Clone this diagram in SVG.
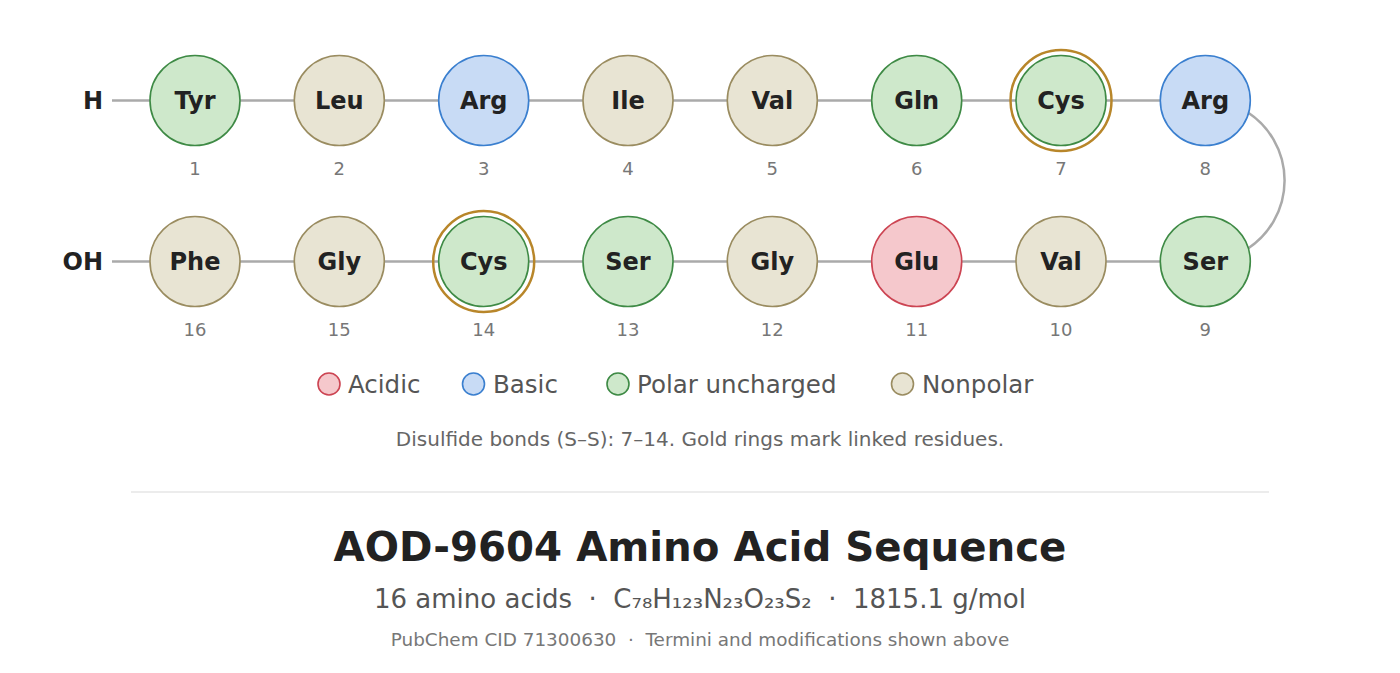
<svg xmlns="http://www.w3.org/2000/svg" width="1400" height="673" viewBox="0 0 1400 673">
<style>
text{font-family:"DejaVu Sans","Liberation Sans",sans-serif;white-space:pre}
.bond{stroke:#aaaaaa;stroke-width:2.5;fill:none}
.res{stroke-width:1.6}
.polar{fill:#cee8cb;stroke:#3e8a45}
.nonpolar{fill:#e8e4d3;stroke:#9a8c60}
.basic{fill:#c8dbf5;stroke:#3a7fcf}
.acidic{fill:#f5c8cc;stroke:#cc4452}
.gold{fill:none;stroke:#b8862a;stroke-width:2.5}
.lbl{font-size:24px;font-weight:bold;fill:#222;text-anchor:middle}
.num{font-size:18px;fill:#777;text-anchor:middle}
.term{font-size:24px;font-weight:bold;fill:#222;text-anchor:end}
.leg{font-size:24.5px;fill:#555}
</style>
<rect width="1400" height="673" fill="#ffffff"/>
<g id="connectors">
<line class="bond" x1="112" y1="100.5" x2="1205" y2="100.5"/>
<line class="bond" x1="112" y1="261.5" x2="1205" y2="261.5"/>
<path class="bond" d="M1248 112.5 A81.5 81.5 0 0 1 1248 248.5"/>
</g>
<g id="term-H"><text class="term" x="103" y="109">H</text></g>
<g id="term-OH"><text class="term" x="103" y="270">OH</text></g>
<g id="r1"><circle class="res polar" cx="195" cy="100.5" r="45"/><text class="lbl" x="195" y="109">Tyr</text><text class="num" x="195" y="175">1</text></g>
<g id="r2"><circle class="res nonpolar" cx="339.3" cy="100.5" r="45"/><text class="lbl" x="339.3" y="109">Leu</text><text class="num" x="339.3" y="175">2</text></g>
<g id="r3"><circle class="res basic" cx="483.7" cy="100.5" r="45"/><text class="lbl" x="483.7" y="109">Arg</text><text class="num" x="483.7" y="175">3</text></g>
<g id="r4"><circle class="res nonpolar" cx="628" cy="100.5" r="45"/><text class="lbl" x="628" y="109">Ile</text><text class="num" x="628" y="175">4</text></g>
<g id="r5"><circle class="res nonpolar" cx="772.3" cy="100.5" r="45"/><text class="lbl" x="772.3" y="109">Val</text><text class="num" x="772.3" y="175">5</text></g>
<g id="r6"><circle class="res polar" cx="916.7" cy="100.5" r="45"/><text class="lbl" x="916.7" y="109">Gln</text><text class="num" x="916.7" y="175">6</text></g>
<g id="r7"><circle class="gold" cx="1061" cy="100.5" r="50.5"/><circle class="res polar" cx="1061" cy="100.5" r="45"/><text class="lbl" x="1061" y="109">Cys</text><text class="num" x="1061" y="175">7</text></g>
<g id="r8"><circle class="res basic" cx="1205.3" cy="100.5" r="45"/><text class="lbl" x="1205.3" y="109">Arg</text><text class="num" x="1205.3" y="175">8</text></g>
<g id="r9"><circle class="res polar" cx="1205.3" cy="261.5" r="45"/><text class="lbl" x="1205.3" y="270">Ser</text><text class="num" x="1205.3" y="336">9</text></g>
<g id="r10"><circle class="res nonpolar" cx="1061" cy="261.5" r="45"/><text class="lbl" x="1061" y="270">Val</text><text class="num" x="1061" y="336">10</text></g>
<g id="r11"><circle class="res acidic" cx="916.7" cy="261.5" r="45"/><text class="lbl" x="916.7" y="270">Glu</text><text class="num" x="916.7" y="336">11</text></g>
<g id="r12"><circle class="res nonpolar" cx="772.3" cy="261.5" r="45"/><text class="lbl" x="772.3" y="270">Gly</text><text class="num" x="772.3" y="336">12</text></g>
<g id="r13"><circle class="res polar" cx="628" cy="261.5" r="45"/><text class="lbl" x="628" y="270">Ser</text><text class="num" x="628" y="336">13</text></g>
<g id="r14"><circle class="gold" cx="483.7" cy="261.5" r="50.5"/><circle class="res polar" cx="483.7" cy="261.5" r="45"/><text class="lbl" x="483.7" y="270">Cys</text><text class="num" x="483.7" y="336">14</text></g>
<g id="r15"><circle class="res nonpolar" cx="339.3" cy="261.5" r="45"/><text class="lbl" x="339.3" y="270">Gly</text><text class="num" x="339.3" y="336">15</text></g>
<g id="r16"><circle class="res nonpolar" cx="195" cy="261.5" r="45"/><text class="lbl" x="195" y="270">Phe</text><text class="num" x="195" y="336">16</text></g>
<g id="legend">
<circle class="res acidic" cx="329" cy="384" r="11"/><text class="leg" x="348" y="392.5">Acidic</text>
<circle class="res basic" cx="473.5" cy="384" r="11"/><text class="leg" x="493" y="392.5">Basic</text>
<circle class="res polar" cx="618" cy="384" r="11"/><text class="leg" x="637" y="392.5">Polar uncharged</text>
<circle class="res nonpolar" cx="902.5" cy="384" r="11"/><text class="leg" x="922" y="392.5">Nonpolar</text>
</g>
<text x="700" y="446" text-anchor="middle" font-size="20" fill="#666">Disulfide bonds (S–S): 7–14. Gold rings mark linked residues.</text>
<line x1="131" y1="492" x2="1269" y2="492" stroke="#e6e6e6" stroke-width="1.5"/>
<text x="700" y="561" text-anchor="middle" font-size="40.3" font-weight="bold" fill="#222">AOD-9604 Amino Acid Sequence</text>
<text x="700" y="608" text-anchor="middle" font-size="26" fill="#555" xml:space="preserve">16 amino acids  ·  C₇₈H₁₂₃N₂₃O₂₃S₂  ·  1815.1 g/mol</text>
<text x="700" y="646" text-anchor="middle" font-size="18.4" fill="#777" xml:space="preserve">PubChem CID 71300630  ·  Termini and modifications shown above</text>
</svg>
